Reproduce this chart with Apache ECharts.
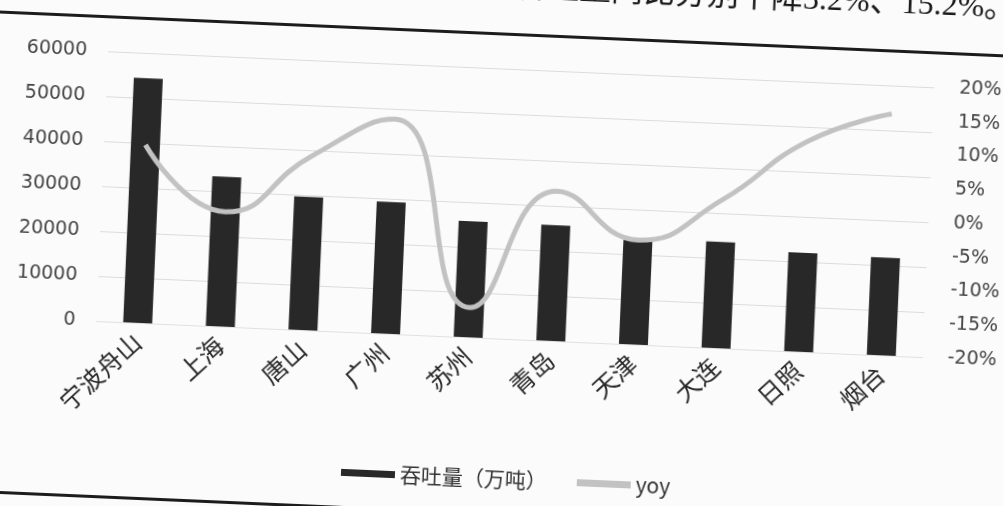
<!DOCTYPE html>
<html>
<head>
<meta charset="utf-8">
<script src="https://cdn.jsdelivr.net/npm/echarts@6/dist/echarts.min.js"></script>
<style>
  html, body { margin: 0; padding: 0; width: 1003px; height: 506px; overflow: hidden; background: #fbfbfb; }
  /* the printed page sits slightly askew, so the whole chart is turned a little */
  #chart {
    position: absolute;
    left: -40px; top: -40px;
    width: 1083px; height: 586px;
    transform-origin: 545px 516px;
    transform: rotate(2.5deg);
  }
</style>
</head>
<body>
<div id="chart"></div>
<script>
// Port cargo throughput (10k tonnes) and year-on-year change (%)
var ports = ['宁波舟山', '上海', '唐山', '广州', '苏州', '青岛', '天津', '大连', '日照', '烟台'];
var throughput = [54400, 33300, 29600, 29300, 25800, 25700, 23600, 23600, 22000, 21700];
var yoy = [6.4, -3.0, 5.7, 11.8, -15.6, 2.2, -4.5, 2.0, 11.2, 15.8];

var leftTicks = { min: 0, max: 60000, step: 10000 };
var rightTicks = { min: -20, max: 20, step: 5 };

var OFF = 40; // margin of the oversized canvas around the page area

var chart = echarts.init(document.getElementById('chart'), null, { renderer: 'canvas' });

var option = {
  animation: false,
  backgroundColor: '#fbfbfb',
  grid: { left: 90 + OFF, right: 1083 - (917 + OFF), top: 69 + OFF, height: 270 },
  legend: {
    left: 336 + OFF, top: 464 + OFF,
    itemWidth: 54, itemHeight: 7, itemGap: 30,
    textStyle: { fontSize: 21, color: '#333', fontFamily: '"Noto Sans CJK SC", "DejaVu Sans", sans-serif' },
    data: [
      { name: '吞吐量（万吨）', icon: 'rect' },
      { name: 'yoy', icon: 'rect' }
    ]
  },
  xAxis: {
    type: 'category',
    data: ports,
    axisLine: { show: true, lineStyle: { color: '#e0e0e0', width: 1 } },
    axisTick: { show: false },
    axisLabel: {
      rotate: 45, margin: 15, fontSize: 25, color: '#2a2a2a', interval: 0,
      fontFamily: '"Noto Sans CJK SC", sans-serif'
    }
  },
  yAxis: [
    {
      type: 'value', min: leftTicks.min, max: leftTicks.max, interval: leftTicks.step,
      axisLine: { show: false }, axisTick: { show: false },
      axisLabel: {
        margin: 21, fontSize: 19, color: '#444', fontFamily: '"DejaVu Sans", sans-serif',
        formatter: function (v) { return String(v); }
      },
      splitLine: { lineStyle: { color: '#dcdcdc', width: 1.2 } }
    },
    {
      type: 'value', min: rightTicks.min, max: rightTicks.max, interval: rightTicks.step,
      axisLine: { show: false }, axisTick: { show: false },
      axisLabel: { margin: 25, fontSize: 19, color: '#444', formatter: '{value}%', fontFamily: '"DejaVu Sans", sans-serif' },
      splitLine: { show: false }
    }
  ],
  series: [
    {
      name: '吞吐量（万吨）',
      type: 'bar',
      data: throughput,
      barWidth: 29,
      itemStyle: { color: '#282828' }
    },
    {
      name: 'yoy',
      type: 'line',
      yAxisIndex: 1,
      data: yoy,
      smooth: 0.5,
      symbol: 'none',
      itemStyle: { color: '#c2c2c2' },
      lineStyle: { color: '#c2c2c2', width: 5 },
      z: 5
    }
  ],
  graphic: [
    {
      type: 'text',
      left: 494 + OFF, top: -28 + OFF,
      style: {
        text: '吞吐量同比分别下降3.2%、15.2%。',
        font: '32px "Liberation Serif", "Noto Sans CJK SC", serif',
        fill: '#1a1a1a'
      }
    },
    {
      type: 'rect',
      shape: { x: -40 + OFF, y: 33 + OFF, width: 1100, height: 3 },
      style: { fill: '#1c1c1c' }
    },
    {
      type: 'rect',
      shape: { x: -40 + OFF, y: 513 + OFF, width: 1100, height: 3 },
      style: { fill: '#1c1c1c' }
    }
  ]
};

chart.setOption(option);
</script>
</body>
</html>
